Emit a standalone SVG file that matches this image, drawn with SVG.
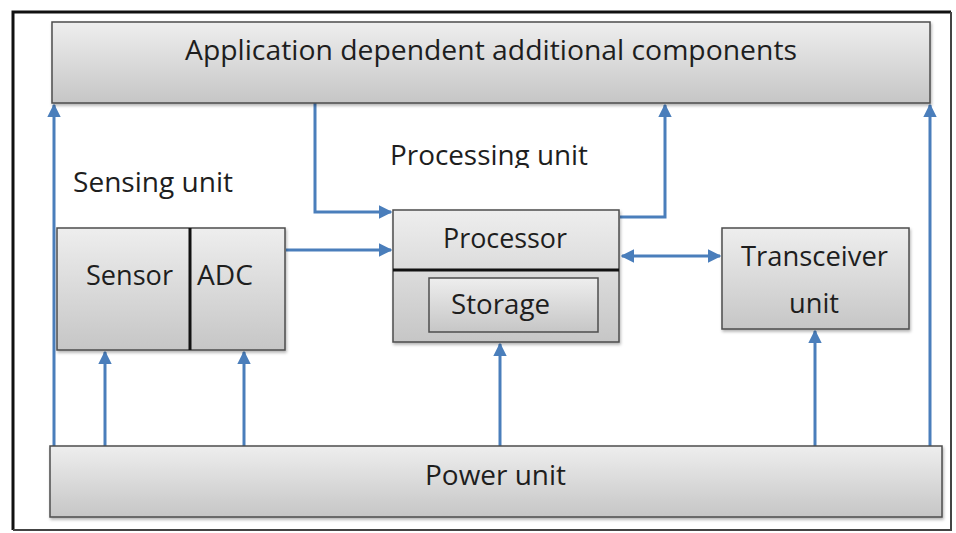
<svg xmlns="http://www.w3.org/2000/svg" width="956" height="533" viewBox="0 0 956 533">
<defs>
<linearGradient id="g" x1="0" y1="0" x2="0" y2="1">
<stop offset="0" stop-color="#eeeeee"/>
<stop offset="1" stop-color="#c6c6c6"/>
</linearGradient>
<filter id="sh" x="-5%" y="-10%" width="110%" height="130%">
<feDropShadow dx="1" dy="2" stdDeviation="1.5" flood-color="#000" flood-opacity="0.3"/>
</filter>
<marker id="ah" viewBox="0 0 10 10" refX="9" refY="5" markerWidth="4.5" markerHeight="4.5" orient="auto-start-reverse" markerUnits="strokeWidth">
<path d="M0,0 L10,5 L0,10 z" fill="#4a7ebb"/>
</marker>
<clipPath id="pclip"><rect x="0" y="0" width="956" height="168"/></clipPath>
</defs>
<style>
.box{fill:url(#g);stroke:#4d4d4d;stroke-width:1.5;filter:url(#sh)}
.inner{fill:url(#g);stroke:#4d4d4d;stroke-width:1.5}
.div{stroke:#111;stroke-width:3}
.t{font-family:"Open Sans","Liberation Sans",sans-serif;font-size:27px;fill:#1e1e1e}
.c{stroke:#4a7ebb;stroke-width:3;fill:none}
.ca{stroke:#4a7ebb;stroke-width:3;fill:none;marker-end:url(#ah)}
</style>
<rect width="956" height="533" fill="#fff"/>
<path d="M951,12 H13 V530" fill="none" stroke="#111" stroke-width="3"/>
<path d="M13,530 H951 V12" fill="none" stroke="#444" stroke-width="2"/>

<g id="connectors">
<path class="ca" d="M54,446 V105"/>
<path class="ca" d="M105,446 V352"/>
<path class="ca" d="M244,446 V352"/>
<path class="ca" d="M500,446 V344"/>
<path class="ca" d="M815,446 V331"/>
<path class="ca" d="M930,446 V105"/>
<path class="ca" d="M315,103 V212 H391"/>
<path class="ca" d="M620,217 H665 V105"/>
<path class="ca" d="M286,250 H391"/>
<path class="ca" d="M622,256 H720" marker-start="url(#ah)"/>
</g>

<g id="app">
<rect class="box" x="52" y="22" width="878" height="81"/>
<text class="t" x="491" y="60" text-anchor="middle" textLength="612" lengthAdjust="spacingAndGlyphs">Application dependent additional components</text>
</g>

<g id="processing-label" clip-path="url(#pclip)">
<text class="t" x="390" y="165" textLength="198" lengthAdjust="spacingAndGlyphs">Processing unit</text>
</g>

<g id="sensing-label">
<text class="t" x="73" y="192" textLength="160" lengthAdjust="spacingAndGlyphs">Sensing unit</text>
</g>

<g id="sensing">
<rect class="box" x="57" y="228" width="228" height="122"/>
<line class="div" x1="190" y1="228" x2="190" y2="350"/>
<text class="t" x="86" y="285" textLength="87" lengthAdjust="spacingAndGlyphs">Sensor</text>
<text class="t" x="197" y="285" textLength="56" lengthAdjust="spacingAndGlyphs">ADC</text>
</g>

<g id="processor">
<rect class="box" x="393" y="210" width="226" height="132"/>
<line class="div" x1="393" y1="270" x2="619" y2="270"/>
<text class="t" x="443" y="248" textLength="124" lengthAdjust="spacingAndGlyphs">Processor</text>
<g id="storage">
<rect class="inner" x="429" y="278" width="169" height="54"/>
<text class="t" x="451" y="314" textLength="99" lengthAdjust="spacingAndGlyphs">Storage</text>
</g>
</g>

<g id="transceiver">
<rect class="box" x="722" y="228" width="187" height="101"/>
<text class="t" x="741" y="266" textLength="147" lengthAdjust="spacingAndGlyphs">Transceiver</text>
<text class="t" x="789" y="313" textLength="50" lengthAdjust="spacingAndGlyphs">unit</text>
</g>

<g id="power">
<rect class="box" x="50" y="446" width="892" height="71"/>
<text class="t" x="425" y="485" textLength="141" lengthAdjust="spacingAndGlyphs">Power unit</text>
</g>
</svg>
